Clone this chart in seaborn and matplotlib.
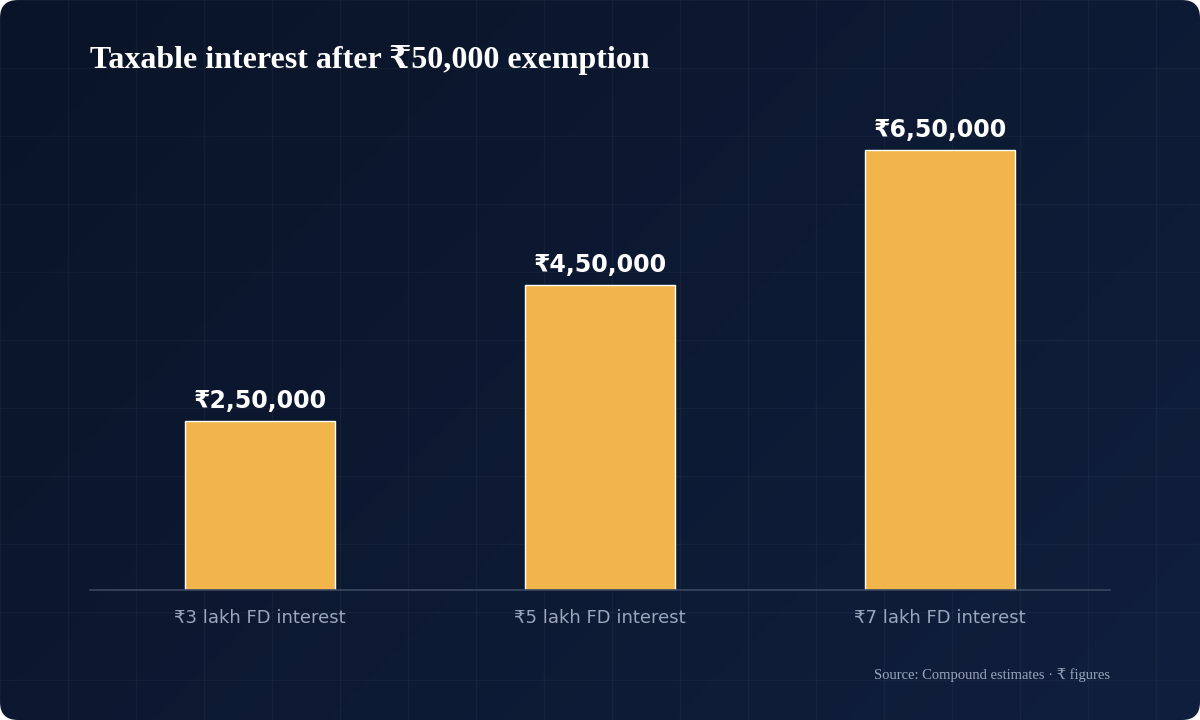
import seaborn as sns
import matplotlib.pyplot as plt
import numpy as np
import pandas as pd
from matplotlib.patches import FancyBboxPatch

categories = ["₹3 lakh FD interest", "₹5 lakh FD interest", "₹7 lakh FD interest"]
taxable = [250000, 450000, 650000]
labels = ["₹2,50,000", "₹4,50,000", "₹6,50,000"]

df = pd.DataFrame({"cat": categories, "val": taxable})

sns.set_style("white")
plt.rcParams["font.family"] = ["DejaVu Sans"]

fig = plt.figure(figsize=(12, 7.2), dpi=100)
fig.patch.set_facecolor("white")

# background panel with gradient and faint grid
bg = fig.add_axes([0, 0, 1, 1])
bg.set_xlim(0, 1200)
bg.set_ylim(720, 0)
bg.axis("off")
grad = np.linspace(0, 1, 256).reshape(1, -1) + np.linspace(0, 0.6, 256).reshape(-1, 1)
from matplotlib.colors import LinearSegmentedColormap
cm = LinearSegmentedColormap.from_list("bg", ["#0a1428", "#101f3d"])
im = bg.imshow(grad, cmap=cm, extent=[0, 1200, 720, 0], aspect="auto", zorder=0)
panel = FancyBboxPatch((0, 0), 1200, 720, boxstyle="round,pad=0,rounding_size=18",
                       transform=bg.transData, facecolor="none", edgecolor="none")
bg.add_patch(panel)
im.set_clip_path(panel)
for gx in np.arange(0, 1200, 68):
    bg.plot([gx, gx], [0, 720], color="#ffffff", alpha=0.035, lw=1, zorder=1)
for gy in np.arange(0, 720, 68):
    bg.plot([0, 1200], [gy, gy], color="#ffffff", alpha=0.035, lw=1, zorder=1)

ax = fig.add_axes([0.075, 590 / 720 * 0 + 130 / 720, 0.85, 474 / 720])
ax.patch.set_alpha(0)
sns.barplot(data=df, x="cat", y="val", color="#f2b54b", width=0.44, saturation=1, ax=ax)
ax.set_xlim(-0.5, 2.5)
ax.set_ylim(0, 700000)
for i, v in enumerate(taxable):
    ax.text(i, v + 12000, labels[i], ha="center", va="bottom", color="white",
            fontsize=17, fontweight="bold")
ax.set_xlabel("")
ax.set_ylabel("")
ax.set_yticks([])
ax.tick_params(axis="x", length=0, pad=14, labelsize=13, labelcolor="#9aa7bd")
for s in ["top", "right", "left"]:
    ax.spines[s].set_visible(False)
ax.spines["bottom"].set_color("#3a4760")
ax.spines["bottom"].set_linewidth(1.2)

fig.text(90 / 1200, 1 - 60 / 720, "Taxable interest after ₹50,000 exemption",
         family=["Liberation Serif", "DejaVu Serif"], fontweight="bold",
         fontsize=23, color="white", va="center", ha="left")
fig.text(1110 / 1200, 1 - 675 / 720, "Source: Compound estimates · ₹ figures",
         family=["Liberation Serif", "DejaVu Serif"], fontsize=10.5,
         color="#9aa7bd", va="center", ha="right")

fig.savefig("out.png", dpi=100)
